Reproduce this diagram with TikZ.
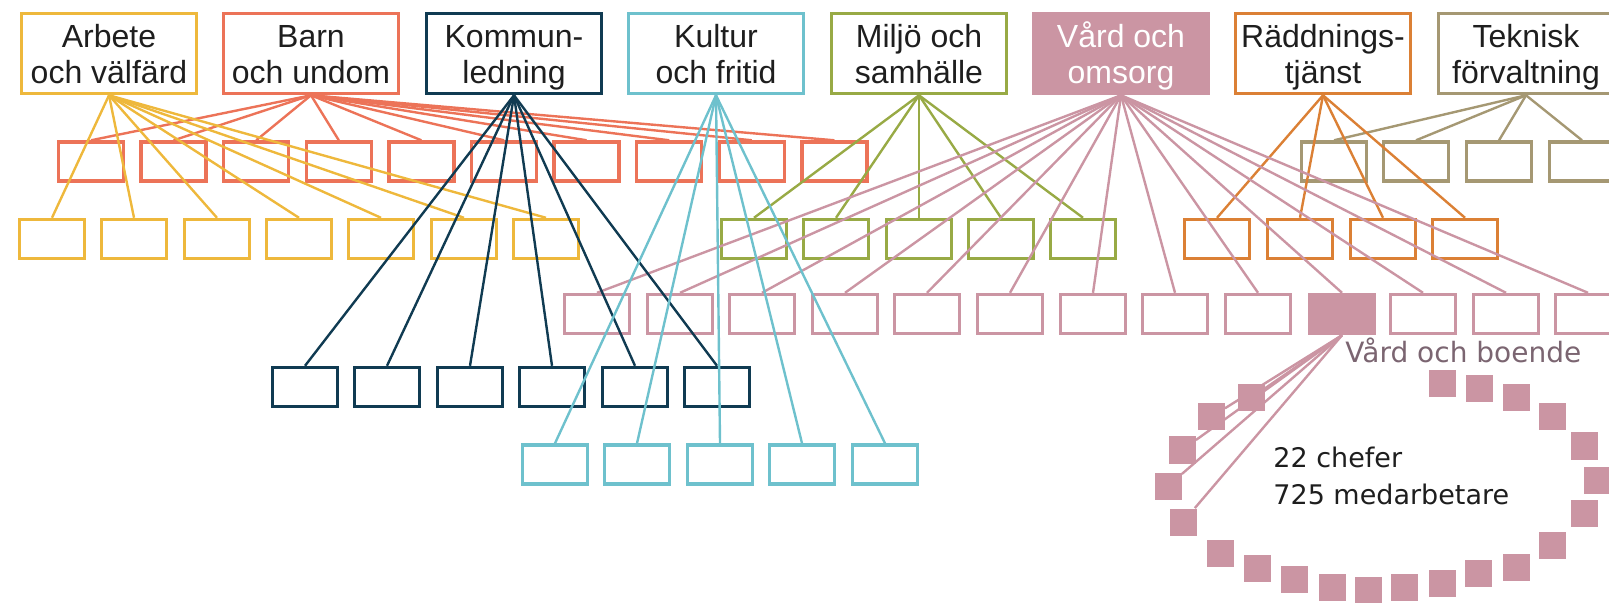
\documentclass[tikz,border=0pt]{standalone}
\usepackage{fontspec}
\setmainfont{Liberation Sans}
\newfontfamily\dejavu{DejaVu Sans}

\definecolor{arbC}{HTML}{EEB83C}
\definecolor{barnC}{HTML}{EC7358}
\definecolor{kommC}{HTML}{103B52}
\definecolor{kultC}{HTML}{6EC1CD}
\definecolor{miljC}{HTML}{98AA45}
\definecolor{vardC}{HTML}{CB95A3}
\definecolor{raddC}{HTML}{DB8035}
\definecolor{tekC}{HTML}{A59873}
\definecolor{txtC}{HTML}{1E1E1E}
\definecolor{lblC}{HTML}{7B6571}

\newcommand\headtxt[2]{\rule{0pt}{16pt}#1\\#2\rule[-3.5pt]{0pt}{3.5pt}}

\begin{document}
\begin{tikzpicture}[x=0.5pt,y=-0.5pt]
  \tikzset{head/.style={draw=#1,line width=1.8pt,minimum width=87.5pt,minimum height=40pt,
      inner sep=0pt,align=center,text=txtC,font=\fontsize{16}{18}\selectfont}}
  \tikzset{box/.style={draw=#1,line width=1.7pt,minimum width=32.5pt,minimum height=19.5pt,inner sep=0pt}}
  \tikzset{dot/.style={fill=vardC,minimum size=13.5pt,inner sep=0pt}}
  \tikzset{link/.style={line width=1.2pt,#1}}
  \tikzset{note/.style={anchor=base west,inner sep=0pt,font=\dejavu\fontsize{13.5}{16}\selectfont}}
  \useasboundingbox (0,0) rectangle (1609,603);

  \node[head=arbC] (AV) at (109,53.5) {\headtxt{Arbete}{och välfärd}};
  \node[head=barnC] (BU) at (311,53.5) {\headtxt{Barn}{och undom}};
  \node[head=kommC] (KL) at (514,53.5) {\headtxt{Kommun-}{ledning}};
  \node[head=kultC] (KF) at (716,53.5) {\headtxt{Kultur}{och fritid}};
  \node[head=miljC] (MS) at (919,53.5) {\headtxt{Miljö och}{samhälle}};
  \node[head=vardC,fill=vardC,text=white] (VO) at (1121,53.5) {\headtxt{Vård och}{omsorg}};
  \node[head=raddC] (RT) at (1323,53.5) {\headtxt{Räddnings-}{tjänst}};
  \node[head=tekC] (TF) at (1526,53.5) {\headtxt{Teknisk}{förvaltning}};

  \foreach \x [count=\i] in {91,173.6,256.2,338.8,421.4,504,586.6,669.2,751.8,834.4} {
    \node[box=barnC] (BU\i) at (\x,161.5) {};
    \draw[link=barnC] (BU.south) -- (BU\i.north);
  }
  \foreach \x [count=\i] in {1334,1416,1499,1582} {
    \node[box=tekC] (TF\i) at (\x,161.5) {};
    \draw[link=tekC] (TF.south) -- (TF\i.north);
  }
  \foreach \x [count=\i] in {52,134,217,299,381,464,546} {
    \node[box=arbC] (AV\i) at (\x,239) {};
    \draw[link=arbC] (AV.south) -- (AV\i.north);
  }
  \foreach \x [count=\i] in {754,836,919,1001,1083} {
    \node[box=miljC] (MS\i) at (\x,239) {};
    \draw[link=miljC] (MS.south) -- (MS\i.north);
  }
  \foreach \x [count=\i] in {1217,1300,1383,1465} {
    \node[box=raddC] (RT\i) at (\x,239) {};
    \draw[link=raddC] (RT.south) -- (RT\i.north);
  }
  \foreach \x [count=\i] in {597,680,762,845,927,1010,1093,1175,1258,1342,1423,1506,1588} {
    \node[box=vardC] (VO\i) at (\x,314) {};
    \draw[link=vardC] (VO.south) -- (VO\i.north);
  }
  \fill[vardC] (VO10.south west) rectangle (VO10.north east);
  \foreach \x [count=\i] in {305,387,470,552,635,717} {
    \node[box=kommC] (KL\i) at (\x,387) {};
    \draw[link=kommC] (KL.south) -- (KL\i.north);
  }
  \foreach \x [count=\i] in {555,637,720,802,885} {
    \node[box=kultC] (KF\i) at (\x,464.5) {};
    \draw[link=kultC] (KF.south) -- (KF\i.north);
  }

  \node[note,text=lblC,font=\dejavu\fontsize{14}{16}\selectfont] (VOlbl) at (1345,363) {Vård och boende};

  \foreach \x/\y [count=\i] in {1251/398,1211/417,1182/450,1168/486,1183/522,1220/553,
      1257/568,1294/579,1332/587,1368/590,1404/587,1442/583,1478/573,1516/567,1552/545,
      1584/513,1597/480,1584/446,1552/417,1516/398,1479/389,1442/384}
    \node[dot] (C\i) at (\x,\y) {};
  \foreach \i in {1,...,5}
    \draw[link=vardC] (VO10.south) -- (C\i);

  \node[note,text=txtC] (chef) at (1273,467) {22 chefer};
  \node[note,text=txtC] (medarb) at (1273,504) {725 medarbetare};
\end{tikzpicture}
\end{document}
